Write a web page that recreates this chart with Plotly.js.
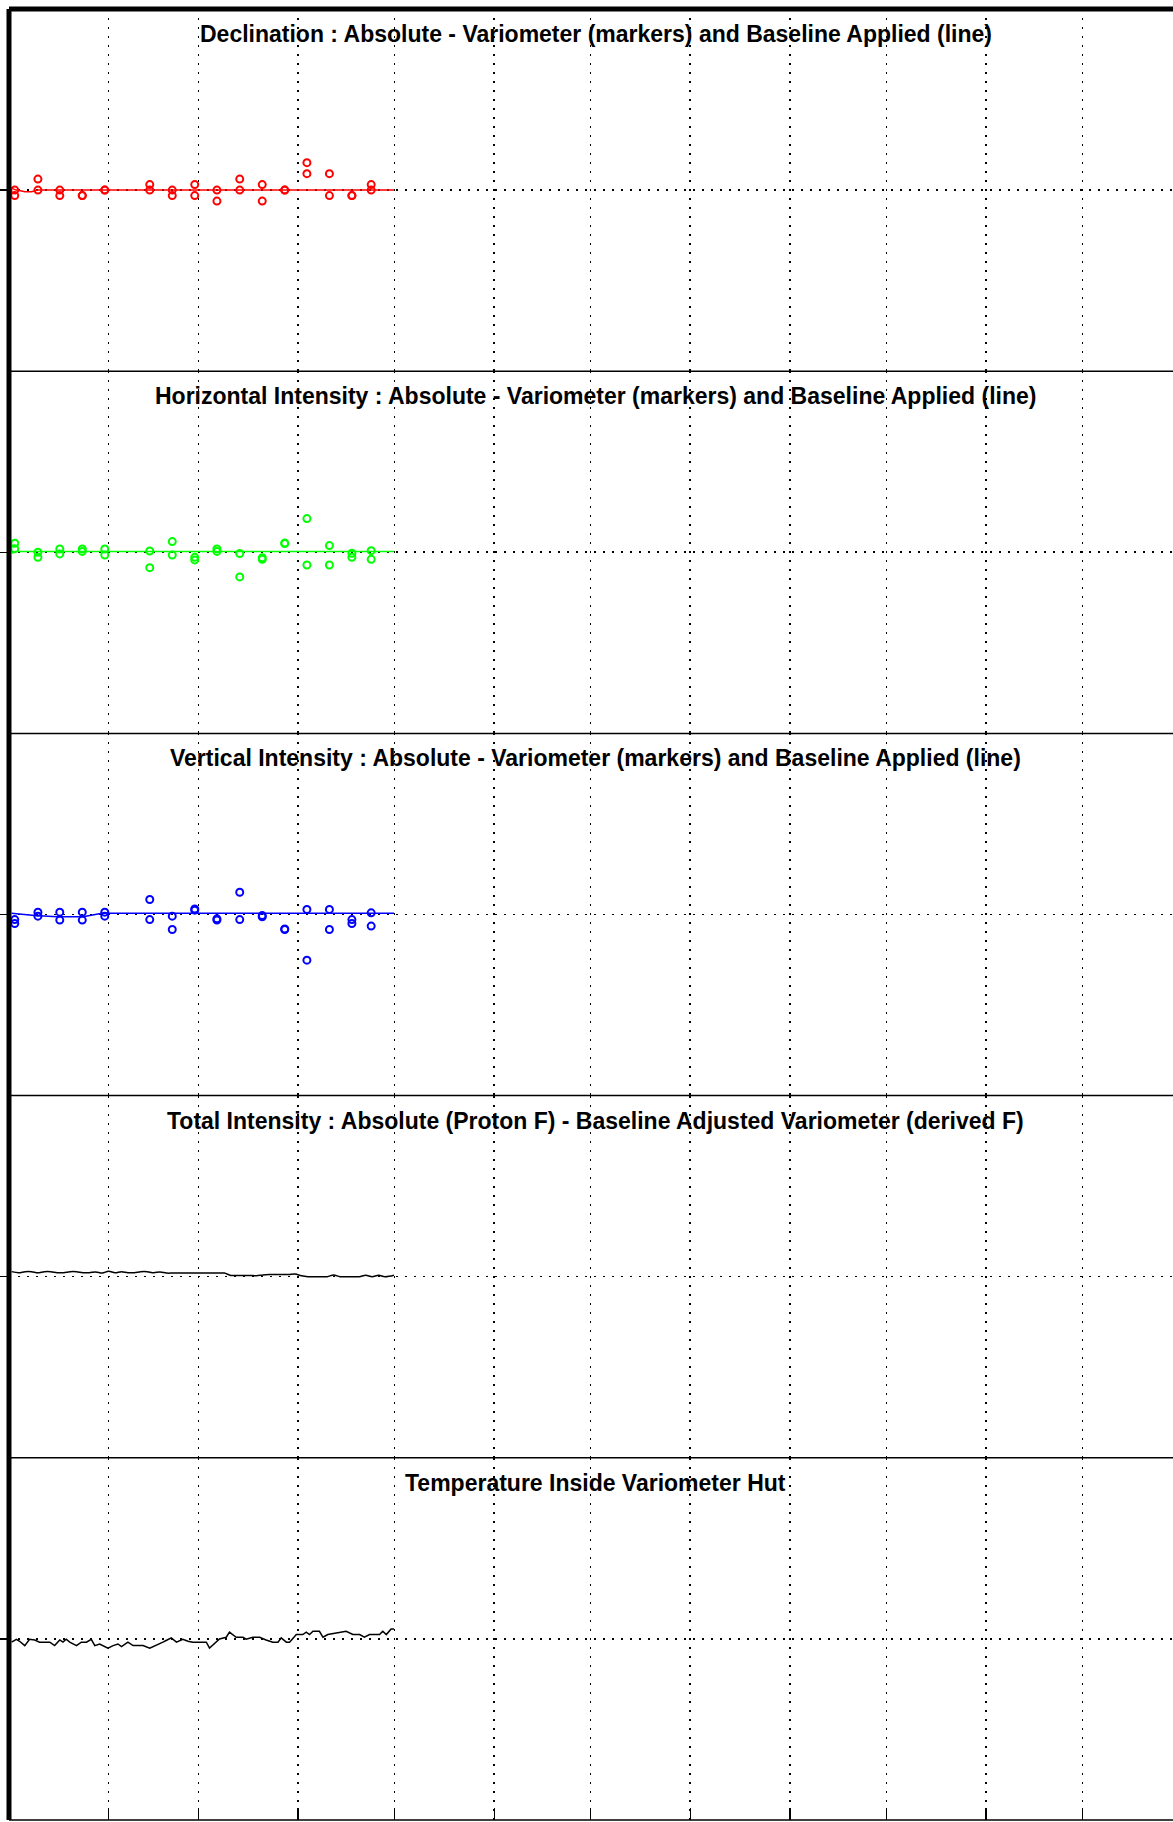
<!DOCTYPE html>
<html>
<head>
<meta charset="utf-8">
<script src="https://cdn.plot.ly/plotly-3.0.1.min.js"></script>
<style>
html, body { margin: 0; padding: 0; overflow: hidden; background: #fff; }
#chart { width: 1191px; height: 1822px; }
</style>
</head>
<body>
<div id="chart"></div>
<script>
// ---------- DATA ----------
const YEAR_START = Date.UTC(2015, 0, 1);
const monthStartDays = [0, 31, 59, 90, 120, 151, 181, 212, 243, 273, 304, 334, 365];

const panelTitles = [
  "Declination : Absolute - Variometer (markers) and Baseline Applied (line)",
  "Horizontal Intensity : Absolute - Variometer (markers) and Baseline Applied (line)",
  "Vertical Intensity : Absolute - Variometer (markers) and Baseline Applied (line)",
  "Total Intensity : Absolute (Proton F) - Baseline Adjusted Variometer (derived F)",
  "Temperature Inside Variometer Hut"
];

// observation days (days since 1 Jan), two absolute observations each day
const obsDay = [1.8, 9.0, 15.8, 22.8, 29.8, 43.8, 50.8, 57.8, 64.7, 71.8, 78.8, 85.8, 92.7, 99.7, 106.7, 112.7];

// Declination residuals (arcsec)
const decObs1 = [0, 2, 0, -1, 0, 1, 0, 1, 0, 2, 1, 0, 5, 3, -1, 1];
const decObs2 = [-1, 0, -1, -1, 0, 0, -1, -1, -2, 0, -2, 0, 3, -1, -1, 0];
const decLineDay = [0.8, 2.0, 5.0, 7.0, 9.0, 30, 60, 90, 119.8];
const decLine = [0.35, 0.05, -0.3, -0.3, 0, 0, 0, 0, 0];

// Horizontal intensity residuals (nT)
const hObs1 = [0.5, 0.0, 0.18, 0.18, 0.18, 0.07, 0.59, -0.28, 0.18, -0.07, -0.30, 0.51, 1.86, 0.37, -0.05, 0.09];
const hObs2 = [0.2, -0.28, -0.09, 0.05, -0.15, -0.85, -0.15, -0.42, 0.05, -1.36, -0.39, 0.48, -0.70, -0.70, -0.28, -0.39];
const hLineDay = [0.8, 2.0, 30, 60, 90, 119.8];
const hLine = [-0.05, 0.04, 0.04, 0.04, 0.04, 0.04];

// Vertical intensity residuals (nT)
const zObs1 = [-0.28, 0.13, 0.13, 0.13, 0.13, 0.83, -0.09, 0.31, -0.24, 1.23, -0.06, -0.83, 0.28, 0.28, -0.28, 0.09];
const zObs2 = [-0.50, -0.09, -0.31, -0.31, -0.09, -0.28, -0.83, 0.24, -0.31, -0.28, -0.13, -0.80, -2.52, -0.83, -0.50, -0.64];
const zLineDay = [0.8, 8.0, 15.0, 23.0, 29.0, 60, 90, 119.8];
const zLine = [0.07, -0.05, -0.12, -0.12, 0.07, 0.07, 0.07, 0.07];

// Total intensity difference (nT)
const fDay = [0.8, 3, 5, 7, 9, 11, 13, 15, 17, 19, 21, 23, 25, 27, 29, 31, 33, 35, 37, 39, 41, 43, 45, 47, 49,
  51, 53, 55, 57, 59, 61, 63, 65, 67, 69, 71, 73, 75, 77, 79, 81, 83, 85, 87, 89, 91, 93, 95, 97, 99,
  101, 103, 105, 107, 109, 111, 113, 115, 117, 119.8];
const fDiff = [0.28, 0.22, 0.28, 0.28, 0.22, 0.28, 0.28, 0.22, 0.22, 0.28, 0.28, 0.22, 0.22, 0.26, 0.20, 0.30, 0.22, 0.28, 0.22, 0.22, 0.28, 0.28, 0.22, 0.26, 0.20,
  0.20, 0.20, 0.20, 0.20, 0.20, 0.20, 0.20, 0.20, 0.20, 0.07, 0.07, 0.07, 0.07, 0.05, 0.10, 0.12, 0.12, 0.12, 0.12, 0.15, 0.05, 0.0, 0.0, 0.0, 0.0,
  0.09, 0.0, 0.0, 0.0, 0.0, 0.08, 0.0, 0.08, 0.0, 0.08];

// Temperature anomaly (deg C)
const tDay = [0.8, 2.3, 3.3, 4.9, 6.4, 8.0, 9.5, 12.7, 14.2, 15.8, 16.8, 17.8, 18.9, 21.0, 22.5, 24.1, 25.6, 26.7, 28.2, 30.8,
  32.4, 33.9, 35.0, 37.0, 38.6, 41.7, 43.8, 45.8, 47.9, 48.9, 50.5, 52.1, 54.1, 55.7, 57.2, 61.4, 62.4, 65.5, 67.6, 68.6,
  70.7, 72.8, 73.8, 75.9, 78.0, 80.0, 82.1, 83.7, 84.7, 86.3, 87.3, 89.4, 91.4, 92.5, 93.5, 94.6, 96.6, 97.7, 99.2, 104.9,
  107.0, 109.1, 110.6, 112.2, 115.3, 116.3, 117.4, 118.9, 119.8];
const tVal = [-0.18, -0.02, -0.13, -0.37, -0.02, -0.06, -0.18, -0.18, -0.37, -0.06, -0.18, -0.02, -0.18, -0.37, -0.18, -0.18, -0.02, -0.37, -0.28, -0.51,
  -0.37, -0.28, -0.42, -0.18, -0.37, -0.37, -0.51, -0.37, -0.18, -0.09, 0.06, -0.18, -0.02, -0.13, -0.18, -0.18, -0.51, 0.0, 0.09, 0.37,
  0.09, 0.09, -0.02, 0.09, 0.09, -0.06, -0.18, -0.18, 0.06, -0.18, -0.18, 0.24, 0.24, 0.37, 0.24, 0.42, 0.42, 0.09, 0.24, 0.42,
  0.24, 0.24, 0.09, 0.24, 0.24, 0.42, 0.24, 0.55, 0.55];

const yRanges = [[-33, 33], [-10, 10], [-10, 10], [-10, 10], [-10, 10]];

// ---------- BUILD ----------
const toMs = d => YEAR_START + d * 86400000;
const ms = arr => arr.map(toMs);
const monthTicks = ms(monthStartDays);

function markerTrace(days, a, b, color, ax) {
  return {
    x: ms(days).concat(ms(days)), y: a.concat(b),
    xaxis: 'x' + ax, yaxis: 'y' + ax, type: 'scatter', mode: 'markers',
    marker: { symbol: 'circle-open', size: 7, color: color, line: { color: color, width: 2 } },
    hoverinfo: 'skip', showlegend: false
  };
}
function lineTrace(days, vals, color, ax, shape) {
  return {
    x: ms(days), y: vals, xaxis: 'x' + ax, yaxis: 'y' + ax, type: 'scatter', mode: 'lines',
    line: { color: color, width: 1.5, shape: shape || 'linear' },
    hoverinfo: 'skip', showlegend: false
  };
}

const traces = [
  lineTrace(decLineDay, decLine, '#ff0000', ''),
  markerTrace(obsDay, decObs1, decObs2, '#ff0000', ''),
  lineTrace(hLineDay, hLine, '#00ff00', '2'),
  markerTrace(obsDay, hObs1, hObs2, '#00ff00', '2'),
  lineTrace(zLineDay, zLine, '#0000ff', '3'),
  markerTrace(obsDay, zObs1, zObs2, '#0000ff', '3'),
  lineTrace(fDay, fDiff, '#000000', '4', 'spline'),
  lineTrace(tDay, tVal, '#000000', '5')
];

const layout = {
  width: 1191, height: 1822,
  margin: { l: 9, r: 9, t: 9, b: 2, pad: 0 },
  paper_bgcolor: '#ffffff', plot_bgcolor: '#ffffff',
  font: { family: 'Liberation Sans, Arial, sans-serif', color: '#000' },
  showlegend: false,
  shapes: [], annotations: []
};

const N = 5;
for (let i = 0; i < N; i++) {
  const sfx = i === 0 ? '' : String(i + 1);
  const top = 1 - i / N, bot = 1 - (i + 1) / N;
  layout['xaxis' + sfx] = {
    type: 'date', domain: [0, 1], anchor: 'y' + sfx,
    range: [toMs(0), toMs(365)],
    tickmode: 'array', tickvals: monthTicks, showticklabels: false,
    ticks: i === N - 1 ? 'inside' : '', ticklen: 12, tickwidth: 1.5, tickcolor: '#000',
    showgrid: true, gridcolor: '#000', gridwidth: 1.6, griddash: '2px,7px',
    zeroline: false, showline: false, fixedrange: true
  };
  layout['yaxis' + sfx] = {
    domain: [bot, top], anchor: 'x' + sfx, range: yRanges[i],
    tickmode: 'array', tickvals: [0], showticklabels: false,
    ticks: 'outside', ticklen: 9, tickwidth: 1.5, tickcolor: '#000',
    showgrid: true, gridcolor: '#000', gridwidth: 1.6, griddash: '2px,7px',
    zeroline: false, showline: false, fixedrange: true
  };
  layout.annotations.push({
    xref: 'paper', yref: 'paper', x: 0.5, y: top, xanchor: 'center', yanchor: 'top', yshift: -10,
    text: '<b>' + panelTitles[i] + '</b>', showarrow: false,
    font: { family: 'Liberation Sans, Arial, sans-serif', size: 23, color: '#000' }
  });
  if (i > 0) {
    layout.shapes.push({ type: 'line', xref: 'paper', yref: 'paper', x0: 0, x1: 1, y0: top, y1: top,
      line: { color: '#000', width: 1.5 } });
  }
}
// frame: thick top and left, thin bottom
layout.shapes.push({ type: 'line', xref: 'paper', yref: 'paper', x0: 0, x1: 1, y0: 0, y1: 0, line: { color: '#000', width: 1.5 } });
layout.shapes.push({ type: 'line', xref: 'paper', yref: 'paper', x0: 0, x1: 1, y0: 1, y1: 1, line: { color: '#000', width: 5 } });
layout.shapes.push({ type: 'line', xref: 'paper', yref: 'paper', x0: 0, x1: 0, y0: 0, y1: 1, line: { color: '#000', width: 5 } });

Plotly.newPlot('chart', traces, layout, { staticPlot: true, displayModeBar: false });
</script>
</body>
</html>
